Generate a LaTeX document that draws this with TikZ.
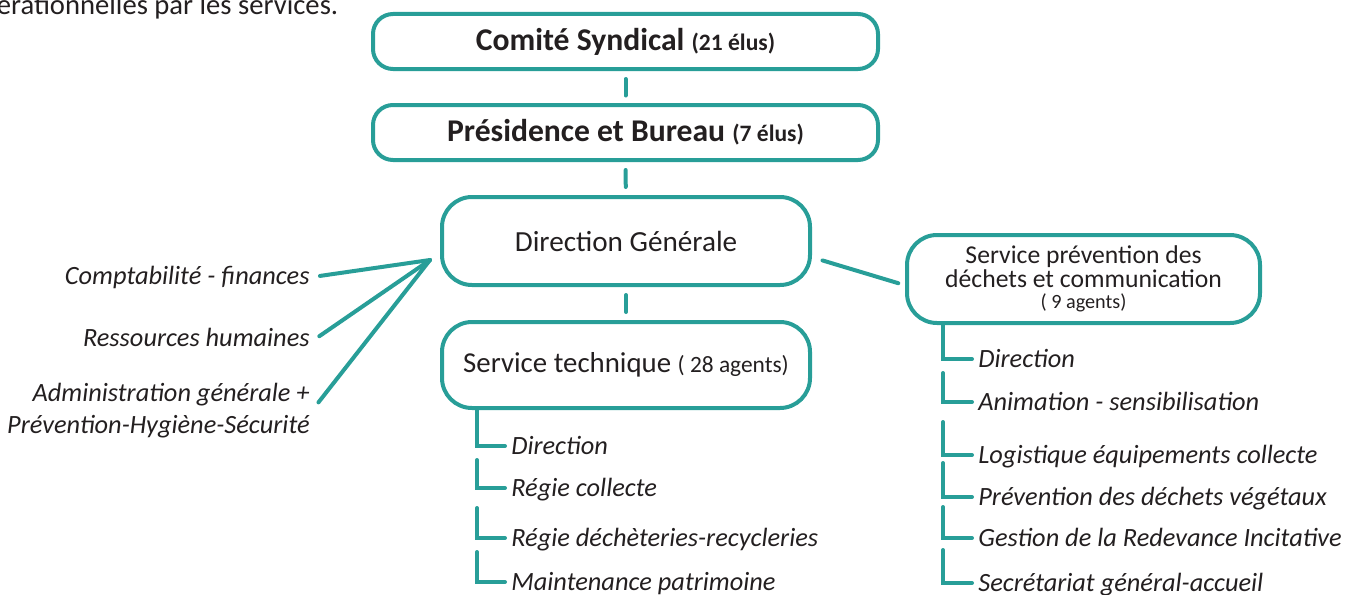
\documentclass[tikz,border=0pt]{standalone}
\usepackage{fontspec}
\setmainfont{Carlito}
\definecolor{vert}{RGB}{40,158,152}
\definecolor{texte}{RGB}{35,31,32}

\begin{document}
\begin{tikzpicture}[
  boite/.style={draw=vert, line width=0.08cm, text=texte, align=center},
  lien/.style={vert, line width=0.08cm, line cap=round},
  etiq/.style={text=texte, font=\itshape\fontsize{15}{18}\selectfont, text height=11.5pt, text depth=2pt, inner xsep=0.12cm, inner ysep=0pt},
]
\useasboundingbox (0,0) rectangle (26.94,11.88);

\node[anchor=base west, text=texte, inner sep=0pt, font=\fontsize{16.3}{19}\selectfont] (intro) at (-0.07,11.6) {érationnelles par les services.};

% elus
\node[boite, rounded corners=0.4cm, minimum width=10.1cm, minimum height=1.1cm] (comite) at (12.51,11.05) {\fontsize{18}{20}\selectfont\bfseries Comité Syndical {\fontsize{13.4}{15}\selectfont (21 élus)}};
\node[boite, rounded corners=0.4cm, minimum width=10.1cm, minimum height=1.1cm] (presid) at (12.51,9.23) {\fontsize{18}{20}\selectfont\bfseries Présidence et Bureau {\fontsize{13.4}{15}\selectfont (7 élus)}};

% direction et services
\node[boite, rounded corners=0.6cm, minimum width=7.36cm, minimum height=1.76cm] (dirgen) at (12.52,7.06) {\fontsize{16.6}{19}\selectfont Direction Générale};
\node[boite, rounded corners=0.6cm, minimum width=7.36cm, minimum height=1.72cm] (servtech) at (12.52,4.58) {\fontsize{16.4}{19}\selectfont Service technique {\fontsize{13.3}{15}\selectfont ( 28 agents)}};
\node[boite, rounded corners=0.6cm, minimum width=7.06cm, minimum height=1.76cm] (servprev) at (21.67,6.3) {\fontsize{14.6}{12.6}\selectfont Service prévention des\\\fontsize{14.6}{12.6}\selectfont déchets et communication\\{\fontsize{11.5}{12.6}\selectfont ( 9 agents)}};

\draw[lien, shorten <=0.16cm, shorten >=0.15cm] (comite) -- (presid);
\draw[lien, shorten <=0.16cm, shorten >=0.16cm] (presid) -- (dirgen);
\draw[lien, shorten <=0.16cm, shorten >=0.16cm] (dirgen) -- (servtech);
\draw[lien, shorten <=0.22cm, shorten >=0.14cm] (dirgen.-5) -- (servprev.182);

% fonctions support
\coordinate (conv) at (8.6,6.68);
\node[etiq, anchor=east] (compta) at (6.32,6.35) {Comptabilité - finances};
\node[etiq, anchor=east] (rh) at (6.32,5.11) {Ressources humaines};
\node[text=texte, font=\itshape\fontsize{15}{18.2}\selectfont, align=right, anchor=east, inner xsep=0.12cm] (admin) at (6.32,3.66) {Administration générale +\\Prévention-Hygiène-Sécurité};

\draw[lien, shorten <=0.08cm] (compta.east) -- (conv);
\draw[lien, shorten <=0.08cm] (rh.east) -- (conv);
\draw[lien, shorten <=0.08cm] (admin.2) -- (conv);

% service technique
\node[etiq, anchor=west] (st1) at (10.1,2.96) {Direction};
\node[etiq, anchor=west] (st2) at (10.1,2.12) {Régie collecte};
\node[etiq, anchor=west] (st3) at (10.1,1.12) {Régie déchèteries-recycleries};
\node[etiq, anchor=west] (st4) at (10.1,0.24) {Maintenance patrimoine};

\coordinate (st2h) at (9.54,2.68);
\coordinate (st3h) at (9.54,1.72);
\coordinate (st4h) at (9.54,0.84);

\draw[lien] (servtech.south -| st2h) |- (st1.west);
\draw[lien] (st2h) |- (st2.west);
\draw[lien] (st3h) |- (st3.west);
\draw[lien] (st4h) |- (st4.west);

% service prevention
\node[etiq, anchor=west] (sp1) at (19.44,4.70) {Direction};
\node[etiq, anchor=west] (sp2) at (19.44,3.84) {Animation - sensibilisation};
\node[etiq, anchor=west] (sp3) at (19.44,2.78) {Logistique équipements collecte};
\node[etiq, anchor=west] (sp4) at (19.44,1.94) {Prévention des déchets végétaux};
\node[etiq, anchor=west] (sp5) at (19.44,1.12) {Gestion de la Redevance Incitative};
\node[etiq, anchor=west] (sp6) at (19.44,0.22) {Secrétariat général-accueil};

\coordinate (sp2h) at (18.86,4.42);
\coordinate (sp3h) at (18.86,3.44);
\coordinate (sp4h) at (18.86,2.62);
\coordinate (sp5h) at (18.86,1.74);
\coordinate (sp6h) at (18.86,0.88);

\draw[lien] (servprev.south -| sp2h) |- (sp1.west);
\draw[lien] (sp2h) |- (sp2.west);
\draw[lien] (sp3h) |- (sp3.west);
\draw[lien] (sp4h) |- (sp4.west);
\draw[lien] (sp5h) |- (sp5.west);
\draw[lien] (sp6h) |- (sp6.west);
\end{tikzpicture}
\end{document}
